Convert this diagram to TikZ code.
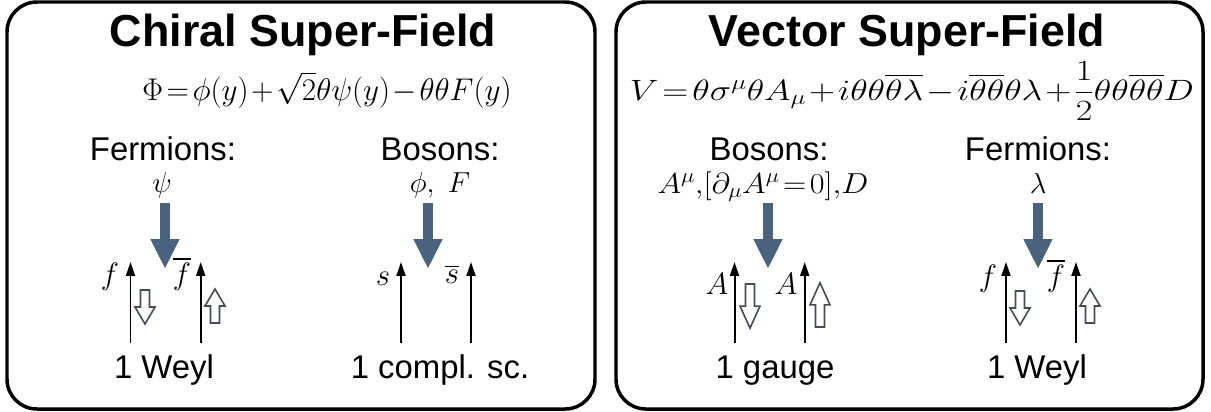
\RequirePackage{fix-cm}
\documentclass[tikz,border=0pt]{standalone}
\usepackage{amsmath, amssymb}
\usepackage{graphicx}
\usepackage{fontspec}
\setsansfont{Liberation Sans}
\usetikzlibrary{arrows.meta, positioning}
\definecolor{FieldColor}{RGB}{76,99,128}
\definecolor{SpinColor}{RGB}{68,76,88}
\newcommand{\tightmath}{\thickmuskip=2mu\medmuskip=1.5mu}

\begin{document}
\begin{tikzpicture}[x=1bp, y=-1bp, >=Latex,
    panel/.style={draw, line width=3.5pt, rounded corners=30pt},
    title/.style={font=\sffamily\bfseries\fontsize{45}{48}\selectfont, anchor=base, inner sep=0pt},
    label/.style={font=\sffamily\fontsize{33}{36}\selectfont, anchor=base, inner sep=0pt},
    sym/.style={font=\fontsize{29}{32}\selectfont\tightmath, anchor=base, inner sep=0pt},
    lbl/.style={font=\fontsize{31}{34}\selectfont, inner sep=0pt},
    field/.style={FieldColor, line width=10pt, -{Triangle[width=27pt, length=30pt]}},
    mode/.style={line width=2pt, -{Triangle[width=9pt, length=14pt]}},
    spinline/.style={SpinColor, line width=1.6pt, fill=white, line join=miter},
    spin/.pic={\draw[spinline] (-4.5,0) -- (4.5,0) -- (4.5,17) -- (10,17) -- (0,34)
        -- (-10,17) -- (-4.5,17) -- cycle;}]
    \useasboundingbox (0,0) rectangle (1211,411);
    % Panels
    \draw[panel] (7,2) rectangle (595,409);
    \draw[panel] (616,2) rectangle (1203,409);
    % Titles
    \node[title] (chiT) at (303,46) {Chiral Super-Field};
    \node[title] (vecT) at (907,46) {Vector Super-Field};
    % Expansions
    \node[sym, font=\fontsize{31.5}{34}\selectfont\tightmath] (chiE) at (327,100)
        {\resizebox{369bp}{\height}{$\Phi=\phi(y)+\sqrt{2}\theta\psi(y)-\theta\theta F(y)$}};
    \node[sym, font=\fontsize{29.5}{32}\selectfont\tightmath] (vecE) at (912,100)
        {\resizebox{564bp}{\height}{$V=\theta\sigma^\mu\theta A_\mu+i\theta\theta\overline{\theta}\overline{\lambda}
        -i\overline{\theta}\overline{\theta}\theta\lambda+\dfrac{1}{2}\theta\theta\overline{\theta}\overline{\theta}D$}};
    % Component headers
    \node[label] (chiF) at (163,160) {Fermions:};
    \node[label] (chiB) at (440,160) {Bosons:};
    \node[label] (vecB) at (769,160) {Bosons:};
    \node[label] (vecF) at (1038,160) {Fermions:};
    \node[sym] (chiFs) at (162,192) {$\psi$};
    \node[sym] (chiBs) at (440,192) {$\phi,\ F$};
    \node[sym] (vecBs) at (763,193) {\resizebox{211bp}{\height}{$A^\mu{,}[\partial_\mu A^\mu=0]{,}D$}};
    \node[sym] (vecFs) at (1038,193) {$\lambda$};
    % Field arrows
    \coordinate (chiF0) at (165,203); \coordinate (chiF1) at (165,269);
    \coordinate (chiB0) at (428,203); \coordinate (chiB1) at (428,269);
    \coordinate (vecB0) at (768,203); \coordinate (vecB1) at (768,269);
    \coordinate (vecF0) at (1038,203); \coordinate (vecF1) at (1038,269);
    \draw[field] (chiF0) -- (chiF1);
    \draw[field] (chiB0) -- (chiB1);
    \draw[field] (vecB0) -- (vecB1);
    \draw[field] (vecF0) -- (vecF1);
    % Degrees of freedom
    \foreach \name/\x in {cf1/130.5, cf2/200.7, cb1/401, cb2/471, vb1/734.5, vb2/804.7, vf1/1006, vf2/1076} {
        \coordinate (\name-0) at (\x,343);
        \coordinate (\name-1) at (\x,262);
        \draw[mode] (\name-0) -- (\name-1);
    }
    \node[lbl] (cf1l) at (110,277) {$f$};
    \node[lbl] (cf2l) at (182,274) {$\overline{f}$};
    \node[lbl] (cb1l) at (383,279) {$s$};
    \node[lbl] (cb2l) at (452,274) {$\overline{s}$};
    \node[lbl] (vb1l) at (717,284) {$A$};
    \node[lbl] (vb2l) at (786,284) {$A$};
    \node[lbl] (vf1l) at (988,279) {$f$};
    \node[lbl] (vf2l) at (1056,276) {$\overline{f}$};
    % Helicities
    \pic at (145,290) {spin};
    \pic[rotate=180] at (215,323) {spin};
    \pic[yscale=1.3] at (750,284) {spin};
    \pic[rotate=180, yscale=1.3] at (820,327) {spin};
    \pic at (1020,291) {spin};
    \pic[rotate=180] at (1090,323) {spin};
    % Multiplet content
    \node[label] (chiFn) at (164,378) {1 Weyl};
    \node[label] (chiBn) at (440,378) {1 compl. sc.};
    \node[label] (vecBn) at (775,378) {1 gauge};
    \node[label] (vecFn) at (1037,378) {1 Weyl};
\end{tikzpicture}
\end{document}
